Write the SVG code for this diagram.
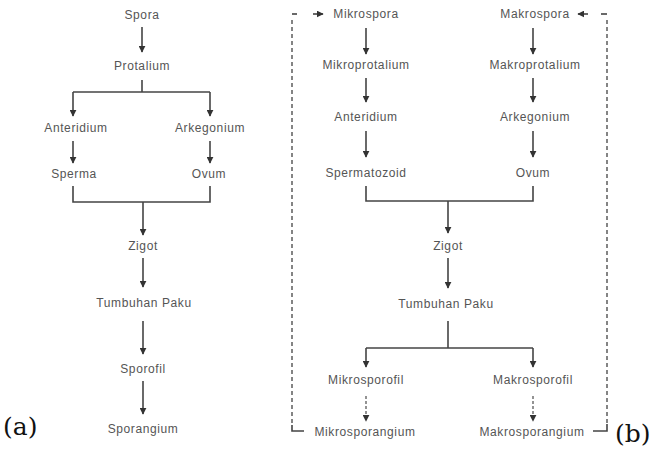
<svg xmlns="http://www.w3.org/2000/svg" width="657" height="450" viewBox="0 0 657 450">
  <style>
    .lbl { font-family: "Liberation Sans", Arial, sans-serif; font-size: 12px; letter-spacing: 0.6px; fill: #555; text-anchor: middle; dominant-baseline: central; }
    .tag { font-family: "DejaVu Serif", "Liberation Serif", serif; font-size: 25px; fill: #111; }
    .ln { stroke: #444; stroke-width: 1.6; fill: none; }
    .arr { stroke: #444; stroke-width: 1.6; fill: none; marker-end: url(#head); }
    .dash { stroke: #666; stroke-width: 1.6; fill: none; stroke-dasharray: 4 3; }
    .darr { stroke: #666; stroke-width: 1.4; fill: none; stroke-dasharray: 3 2; marker-end: url(#head); }
  </style>
  <defs>
    <marker id="head" viewBox="0 0 10 10" refX="9" refY="5" markerWidth="7" markerHeight="7" markerUnits="userSpaceOnUse" orient="auto">
      <path d="M0,0 L10,5 L0,10 z" fill="#333"/>
    </marker>
  </defs>

  <rect width="657" height="450" fill="#fff"/>

  <!-- connectors -->
  <g id="connectors">
    <!-- (a) -->
    <line class="arr" x1="142" y1="27" x2="142" y2="52"/>
    <polyline class="ln" points="142,80 142,92"/>
    <line class="ln" x1="73" y1="92" x2="210" y2="92"/>
    <line class="arr" x1="73" y1="92" x2="73" y2="116"/>
    <line class="arr" x1="210" y1="92" x2="210" y2="116"/>
    <line class="arr" x1="73" y1="141" x2="73" y2="163"/>
    <line class="arr" x1="210" y1="141" x2="210" y2="163"/>
    <polyline class="ln" points="73,186 73,202 210,202 210,186"/>
    <line class="arr" x1="143" y1="202" x2="143" y2="235"/>
    <line class="arr" x1="143" y1="258" x2="143" y2="287"/>
    <line class="arr" x1="143" y1="321" x2="143" y2="354"/>
    <line class="arr" x1="143" y1="381" x2="143" y2="414"/>

    <!-- (b) -->
    <line class="arr" x1="366" y1="28" x2="366" y2="54"/>
    <line class="arr" x1="533" y1="28" x2="533" y2="54"/>
    <line class="arr" x1="366" y1="78" x2="366" y2="102"/>
    <line class="arr" x1="533" y1="78" x2="533" y2="102"/>
    <line class="arr" x1="366" y1="131" x2="366" y2="157"/>
    <line class="arr" x1="533" y1="131" x2="533" y2="157"/>
    <polyline class="ln" points="366,186 366,201 533,201 533,186"/>
    <line class="arr" x1="448" y1="201" x2="448" y2="233"/>
    <line class="arr" x1="448" y1="258" x2="448" y2="288"/>
    <polyline class="ln" points="448,321 448,348"/>
    <line class="ln" x1="366" y1="348" x2="533" y2="348"/>
    <line class="arr" x1="366" y1="348" x2="366" y2="367"/>
    <line class="arr" x1="533" y1="348" x2="533" y2="367"/>
    <line class="darr" x1="366" y1="396" x2="366" y2="421"/>
    <line class="darr" x1="533" y1="396" x2="533" y2="421"/>

    <!-- return loop: sporangia back to spores -->
    <polyline class="ln" points="297,14 292,14"/>
    <line class="dash" x1="292" y1="20" x2="292" y2="424"/>
    <polyline class="ln" points="292,425 292,431 304,431"/>
    <line class="arr" x1="313" y1="14" x2="323" y2="14"/>
    <polyline class="ln" points="601,14 607,14"/>
    <line class="dash" x1="607" y1="20" x2="607" y2="424"/>
    <polyline class="ln" points="607,424 607,431 593,431"/>
    <line class="arr" x1="588" y1="14" x2="578" y2="14"/>
  </g>

  <!-- (a) nodes -->
  <g id="a-spora"><text class="lbl" x="142" y="15">Spora</text></g>
  <g id="a-protalium"><text class="lbl" x="142" y="66">Protalium</text></g>
  <g id="a-anteridium"><text class="lbl" x="76" y="128">Anteridium</text></g>
  <g id="a-arkegonium"><text class="lbl" x="210" y="128">Arkegonium</text></g>
  <g id="a-sperma"><text class="lbl" x="74" y="174">Sperma</text></g>
  <g id="a-ovum"><text class="lbl" x="209" y="174">Ovum</text></g>
  <g id="a-zigot"><text class="lbl" x="143" y="246">Zigot</text></g>
  <g id="a-tumbuhan"><text class="lbl" x="144" y="303">Tumbuhan Paku</text></g>
  <g id="a-sporofil"><text class="lbl" x="143" y="369">Sporofil</text></g>
  <g id="a-sporangium"><text class="lbl" x="143" y="429">Sporangium</text></g>

  <!-- (b) nodes -->
  <g id="b-mikrospora"><text class="lbl" x="366" y="14">Mikrospora</text></g>
  <g id="b-makrospora"><text class="lbl" x="535" y="14">Makrospora</text></g>
  <g id="b-mikroprotalium"><text class="lbl" x="366" y="65">Mikroprotalium</text></g>
  <g id="b-makroprotalium"><text class="lbl" x="535" y="65">Makroprotalium</text></g>
  <g id="b-anteridium"><text class="lbl" x="366" y="117">Anteridium</text></g>
  <g id="b-arkegonium"><text class="lbl" x="535" y="117">Arkegonium</text></g>
  <g id="b-spermatozoid"><text class="lbl" x="366" y="173">Spermatozoid</text></g>
  <g id="b-ovum"><text class="lbl" x="533" y="173">Ovum</text></g>
  <g id="b-zigot"><text class="lbl" x="448" y="246">Zigot</text></g>
  <g id="b-tumbuhan"><text class="lbl" x="446" y="304">Tumbuhan Paku</text></g>
  <g id="b-mikrosporofil"><text class="lbl" x="366" y="380">Mikrosporofil</text></g>
  <g id="b-makrosporofil"><text class="lbl" x="533" y="380">Makrosporofil</text></g>
  <g id="b-mikrosporangium"><text class="lbl" x="365" y="432">Mikrosporangium</text></g>
  <g id="b-makrosporangium"><text class="lbl" x="532" y="432">Makrosporangium</text></g>

  <!-- panel tags -->
  <text class="tag" x="3" y="435">(a)</text>
  <text class="tag" x="615" y="442">(b)</text>
</svg>
